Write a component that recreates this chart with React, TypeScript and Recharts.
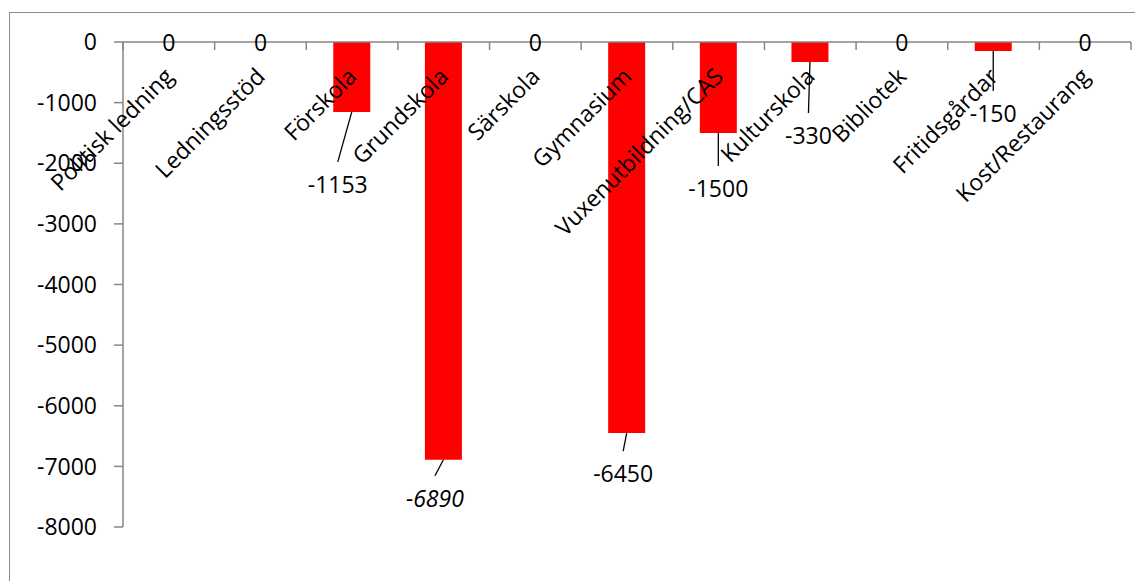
import { Bar, BarChart, LabelList, XAxis, YAxis } from "recharts";

const categories = [
  "Politisk ledning",
  "Ledningsstöd",
  "Förskola",
  "Grundskola",
  "Särskola",
  "Gymnasium",
  "Vuxenutbildning/CAS",
  "Kulturskola",
  "Bibliotek",
  "Fritidsgårdar",
  "Kost/Restaurang",
];
const values = [0, 0, -1153, -6890, 0, -6450, -1500, -330, 0, -150, 0];
const yTicks = [0, -1000, -2000, -3000, -4000, -5000, -6000, -7000, -8000];

const rows = categories.map((name, i) => ({ name, value: values[i] }));

const W = 1135;
const H = 581;
const PLOT_LEFT = 123;
const PLOT_RIGHT = 1131;
const PLOT_TOP = 42;
const PLOT_BOTTOM = 527;
const X_AXIS_H = 30;
const BAND = (PLOT_RIGHT - PLOT_LEFT) / categories.length;
const FONT = '"Open Sans", sans-serif';
const FONT_SIZE = 23;
const AXIS = "#868686";

// hand placed data labels in the original: [dx, dy] from the bar end, px
const labelOffsets: Record<string, [number, number]> = {
  Förskola: [-14, 72],
  Grundskola: [-8.5, 38],
  Gymnasium: [-3.5, 40],
  "Vuxenutbildning/CAS": [0, 55],
  Kulturskola: [-1.5, 73],
  Fritidsgårdar: [0, 62],
};
const italicLabels = ["Grundskola"];

function CategoryTick(props: any) {
  const cx = Number(props.x);
  const name = props.payload?.value as string;
  const i = categories.indexOf(name);
  const ax = cx + 6;
  const ay = PLOT_TOP + 36;
  return (
    <g>
      <line x1={cx - BAND / 2} x2={cx - BAND / 2} y1={PLOT_TOP} y2={PLOT_TOP + 8} stroke={AXIS} strokeWidth={1.5} />
      {i === categories.length - 1 && (
        <line x1={cx + BAND / 2} x2={cx + BAND / 2} y1={PLOT_TOP} y2={PLOT_TOP + 8} stroke={AXIS} strokeWidth={1.5} />
      )}
      <text
        x={ax}
        y={ay}
        transform={`rotate(-45 ${ax} ${ay})`}
        textAnchor="end"
        fontSize={FONT_SIZE}
        fontFamily={FONT}
        fill="#000"
      >
        {name}
      </text>
      {values[i] === 0 && (
        <text x={cx} y={PLOT_TOP} textAnchor="middle" dominantBaseline="central" fontSize={FONT_SIZE} fontFamily={FONT} fill="#000">
          0
        </text>
      )}
    </g>
  );
}

function ValueLabel(props: any) {
  const x = Number(props.x);
  const y = Number(props.y);
  const width = Number(props.width);
  const height = Number(props.height);
  const value = Number(props.value);
  if (!value) return null;
  const cx = x + width / 2;
  const idx = Math.max(0, Math.min(categories.length - 1, Math.floor((cx - PLOT_LEFT) / BAND)));
  const name = categories[idx];
  const yEnd = Math.max(y, y + height);
  const [dx, dy] = labelOffsets[name] ?? [0, 40];
  const lx = cx + dx;
  const ly = yEnd + dy;
  return (
    <g>
      <line x1={cx} y1={yEnd} x2={lx} y2={ly - 22} stroke="#000" strokeWidth={1.3} />
      <text
        x={lx}
        y={ly}
        textAnchor="middle"
        dominantBaseline="central"
        fontSize={FONT_SIZE}
        fontFamily={FONT}
        fontStyle={italicLabels.includes(name) ? "italic" : "normal"}
        fill="#000"
      >
        {value}
      </text>
    </g>
  );
}

export default function App() {
  return (
    <div style={{ position: "fixed", left: 0, top: 0, width: W, height: H, overflow: "hidden", background: "#fff" }}>
      <div
        style={{
          position: "absolute",
          left: 9,
          top: 12,
          width: 1300,
          height: 800,
          border: "1.5px solid #8c8c8c",
        }}
      />
      <div style={{ position: "absolute", left: 0, top: 0 }}>
        <BarChart
          width={W}
          height={H}
          data={rows}
          margin={{ top: PLOT_TOP - X_AXIS_H, right: W - PLOT_RIGHT, bottom: H - PLOT_BOTTOM, left: PLOT_LEFT - 80 }}
        >
          <YAxis
            type="number"
            domain={[-8000, 0]}
            ticks={yTicks}
            interval={0}
            width={80}
            tickSize={9}
            tickMargin={17}
            axisLine={{ stroke: AXIS, strokeWidth: 1.5 }}
            tickLine={{ stroke: AXIS, strokeWidth: 1.5 }}
            tick={{ fontSize: FONT_SIZE, fontFamily: FONT, fill: "#000" }}
          />
          <Bar dataKey="value" fill="#ff0000" barSize={37} isAnimationActive={false}>
            <LabelList dataKey="value" content={ValueLabel} />
          </Bar>
          <XAxis
            dataKey="name"
            orientation="top"
            height={X_AXIS_H}
            interval={0}
            tickLine={false}
            axisLine={{ stroke: AXIS, strokeWidth: 1.5 }}
            tick={CategoryTick}
          />
        </BarChart>
      </div>
    </div>
  );
}
